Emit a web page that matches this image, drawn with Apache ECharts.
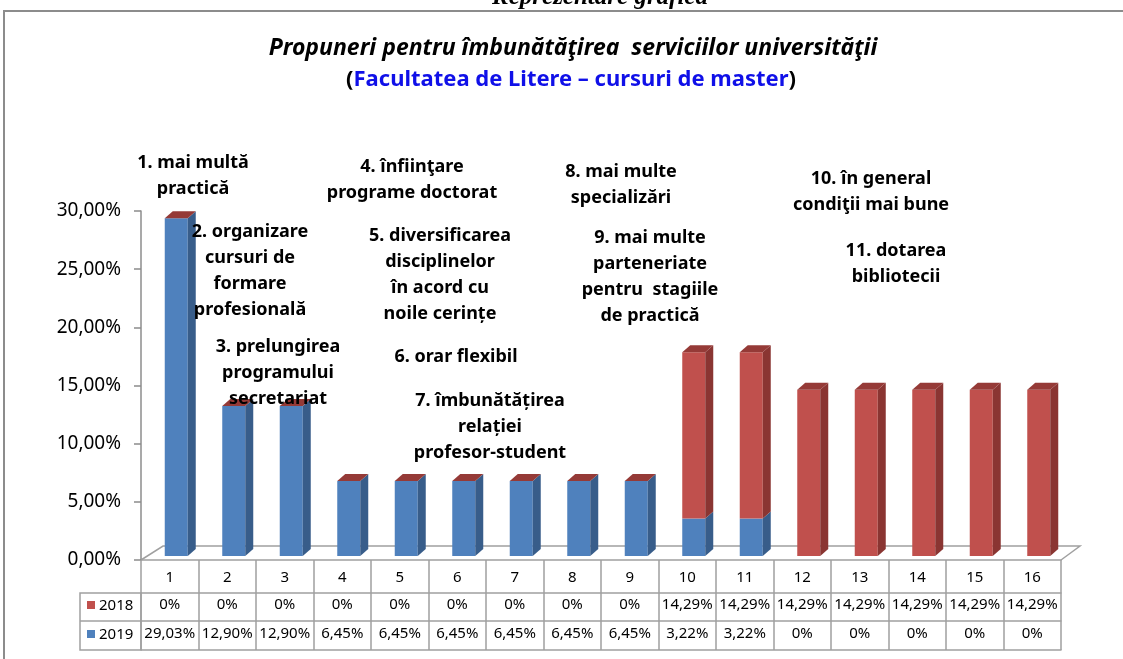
<!DOCTYPE html>
<html>
<head>
<meta charset="utf-8">
<script src="https://cdn.jsdelivr.net/npm/echarts@6/dist/echarts.min.js"></script>
<style>
  html, body { margin: 0; padding: 0; background: #fff; }
  #main { width: 1123px; height: 659px; }
</style>
</head>
<body>
<div id="main"></div>
<script>
// date
const categories = ['1', '2', '3', '4', '5', '6', '7', '8', '9', '10', '11', '12', '13', '14', '15', '16'];
const values2018 = [0, 0, 0, 0, 0, 0, 0, 0, 0, 14.29, 14.29, 14.29, 14.29, 14.29, 14.29, 14.29];
const values2019 = [29.03, 12.90, 12.90, 6.45, 6.45, 6.45, 6.45, 6.45, 6.45, 3.22, 3.22, 0, 0, 0, 0, 0];
const yMin = 0, yMax = 30, yStep = 5;

// etichete propuneri
const notes = [
  { text: '1. mai multă\npractică', x: 193, y: 150 },
  { text: '2. organizare\ncursuri de\nformare\nprofesională', x: 250, y: 219 },
  { text: '3. prelungirea\nprogramului\nsecretariat', x: 278, y: 334 },
  { text: '4. înfiinţare\nprograme doctorat', x: 412, y: 154 },
  { text: '5. diversificarea\ndisciplinelor\nîn acord cu\nnoile cerințe', x: 440, y: 223 },
  { text: '6. orar flexibil', x: 456, y: 344 },
  { text: '7. îmbunătățirea\nrelației\nprofesor-student', x: 490, y: 388 },
  { text: '8. mai multe\nspecializări', x: 621, y: 159 },
  { text: '9. mai multe\nparteneriate\npentru  stagiile\nde practică', x: 650, y: 225 },
  { text: '10. în general\ncondiţii mai bune', x: 871, y: 166 },
  { text: '11. dotarea\nbibliotecii', x: 896, y: 238 }
];

const fmtPct = (v) => (v === 0 ? '0%' : v.toFixed(2).replace('.', ',') + '%');

const BLUE = '#4F81BD', BLUE_SIDE = '#385D8A';
const RED = '#C0504D', RED_SIDE = '#8A3532', RED_TOP = '#953A37';
const GRID_LINE = '#A0A0A0';

const chart = echarts.init(document.getElementById('main'));

// bare 3D (fata, lateral, capac)
function renderBar(params, api) {
  const i = api.value(0);
  const v19 = api.value(1);
  const v18 = api.value(2);
  const base = api.coord([i, 0]);
  const mid = api.coord([i, v19]);
  const top = api.coord([i, v19 + v18]);
  const lift = 4, w = 23, dx = 8, dy = 7;
  const left = base[0] - 5;
  const y0 = base[1] - lift, y1 = mid[1] - lift, y2 = top[1] - lift;
  const children = [];
  function seg(ya, yb, front, side) {
    if (ya - yb < 0.5) return;
    children.push({ type: 'rect', shape: { x: left, y: yb, width: w, height: ya - yb }, style: { fill: front } });
    children.push({
      type: 'polygon',
      shape: { points: [[left + w, ya], [left + w + dx, ya - dy], [left + w + dx, yb - dy], [left + w, yb]] },
      style: { fill: side }
    });
  }
  seg(y0, y1, BLUE, BLUE_SIDE);
  seg(y1, y2, RED, RED_SIDE);
  children.push({
    type: 'polygon',
    shape: { points: [[left, y2], [left + w, y2], [left + w + dx, y2 - dy], [left + dx, y2 - dy]] },
    style: { fill: RED_TOP }
  });
  return { type: 'group', children: children };
}

const barData = categories.map((c, i) => [i, values2019[i], values2018[i]]);

const graphics = [
  // cadru
  { type: 'rect', shape: { x: 4, y: 11, width: 1140, height: 670 }, style: { fill: null, stroke: '#8C8C8C', lineWidth: 2 }, z: 0 },
  {
    type: 'text', x: 600, y: -15,
    style: { text: 'Reprezentare grafică', font: 'italic bold 25px "Liberation Serif"', fill: '#000', textAlign: 'center', textVerticalAlign: 'top' }
  },
  {
    type: 'text', x: 573, y: 48,
    style: { text: 'Propuneri pentru îmbunătăţirea  serviciilor universităţii', font: 'italic bold 23px "Noto Sans"', fill: '#000', textAlign: 'center', textVerticalAlign: 'middle' }
  },
  {
    type: 'text', x: 571, y: 80,
    style: {
      text: '{p|(}{b|Facultatea de Litere – cursuri de master}{p|)}',
      textAlign: 'center', textVerticalAlign: 'middle',
      rich: {
        p: { font: 'bold 22px "Noto Sans"', fill: '#000' },
        b: { font: 'bold 22px "Noto Sans"', fill: '#1010E8' }
      }
    }
  },
  // podea 3D
  {
    type: 'polyline',
    shape: { points: [[141, 560], [163, 546], [1080, 546], [1061, 560]] },
    style: { stroke: GRID_LINE, lineWidth: 1.5, fill: null }
  },
  // coloana legendei in tabel
  { type: 'rect', shape: { x: 80, y: 593, width: 61, height: 57 }, style: { fill: null, stroke: GRID_LINE, lineWidth: 1.5 } },
  { type: 'line', shape: { x1: 80, y1: 621, x2: 141, y2: 621 }, style: { stroke: GRID_LINE, lineWidth: 1.5 } },
  { type: 'rect', shape: { x: 87, y: 601, width: 8, height: 8 }, style: { fill: RED } },
  { type: 'text', x: 99, y: 606, style: { text: '2018', font: '15px "Noto Sans"', fill: '#000', textVerticalAlign: 'middle' } },
  { type: 'rect', shape: { x: 87, y: 630, width: 8, height: 8 }, style: { fill: BLUE } },
  { type: 'text', x: 99, y: 635, style: { text: '2019', font: '15px "Noto Sans"', fill: '#000', textVerticalAlign: 'middle' } }
];

notes.forEach((n) => {
  graphics.push({
    type: 'text', x: n.x, y: n.y,
    style: { text: n.text, font: 'bold 18px "Noto Sans"', lineHeight: 26, fill: '#000', textAlign: 'center', textVerticalAlign: 'top' },
    z: 10
  });
});

function tableAxis(data, offset, tickLen, margin) {
  return {
    type: 'category', gridIndex: 0, position: 'bottom', offset: offset,
    data: data,
    axisLine: { show: true, lineStyle: { color: GRID_LINE, width: 1.5 } },
    axisTick: { show: tickLen > 0, length: tickLen, interval: 0, lineStyle: { color: GRID_LINE, width: 1.5 } },
    axisLabel: { show: true, interval: 0, margin: margin, fontFamily: 'Noto Sans', fontSize: 15, color: '#000', hideOverlap: false },
    splitLine: { show: false }
  };
}

chart.setOption({
  animation: false,
  backgroundColor: '#fff',
  grid: { left: 141, right: 62, top: 211, bottom: 99 },
  xAxis: [
    tableAxis(categories, 0, 33, 10),
    tableAxis(values2018.map(fmtPct), 33, 28, 4),
    tableAxis(values2019.map(fmtPct), 61, 29, 5),
    Object.assign(tableAxis(categories, 90, 0, 0), { axisLabel: { show: false } })
  ],
  yAxis: {
    type: 'value', min: yMin, max: yMax, interval: yStep,
    axisLine: { show: true, lineStyle: { color: '#8C8C8C', width: 1.5 } },
    axisTick: { show: true, length: 7, lineStyle: { color: '#8C8C8C', width: 1.5 } },
    axisLabel: { formatter: (v) => v.toFixed(2).replace('.', ',') + '%', fontFamily: 'Noto Sans', fontSize: 19, color: '#000', margin: 20 },
    splitLine: { show: false }
  },
  series: [{
    type: 'custom',
    xAxisIndex: 0,
    renderItem: renderBar,
    encode: { x: 0, y: [1, 2] },
    data: barData,
    z: 5
  }],
  graphic: graphics
});
</script>
</body>
</html>
